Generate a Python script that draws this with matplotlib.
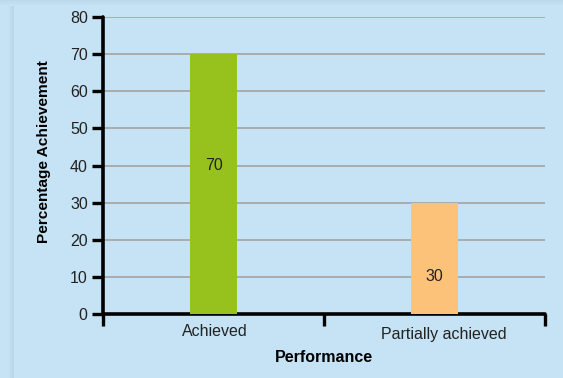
import matplotlib.pyplot as plt
import matplotlib.transforms as mtransforms
from matplotlib.patches import Rectangle

plt.rcParams['font.family'] = ['Liberation Sans', 'DejaVu Sans']

# data
categories = ["Achieved", "Partially achieved"]
values = [70, 30]
label_offsets = [30, 20]   # how far below the bar top each value label sits
bar_colors = ["#97c21e", "#fcc27a"]

bg = "#c5e3f4"
fig = plt.figure(figsize=(5.63, 3.78), dpi=100)
fig.patch.set_facecolor(bg)

# soft shadow along the top and left edge of the panel
for i, a in enumerate([0.10, 0.08, 0.06, 0.04, 0.02]):
    fig.patches.append(Rectangle((0, 1 - (i + 1) / 378), 1, 1 / 378, transform=fig.transFigure,
                                 facecolor="#6a8aa0", alpha=a, edgecolor="none", zorder=0))
    fig.patches.append(Rectangle((9 / 563 + i / 563, 0), 1 / 563, 1 - 6 / 378, transform=fig.transFigure,
                                 facecolor="#6a8aa0", alpha=0.04 + i * 0.025, edgecolor="none", zorder=0))

ax = fig.add_axes([103 / 563, 1 - 314 / 378, 442 / 563, 297 / 378])
ax.set_facecolor("none")

x = [0.5, 1.5]
ax.bar(x, values, width=0.213, color=bar_colors, zorder=3)
for xi, v, off in zip(x, values, label_offsets):
    ax.text(xi, v - off, str(v), ha="center", va="center", fontsize=11.5, color="#222222", zorder=4)

ax.set_xlim(0, 2)
ax.set_ylim(0, 80)
ax.set_yticks(range(0, 81, 10))
ax.yaxis.grid(True, color="#a9acae", linewidth=1.4, zorder=1)
ax.set_axisbelow(True)

ax.set_xticks([0, 1, 2])
ax.set_xticklabels([])
ax.tick_params(axis="x", direction="out", length=8.5, width=2.4)
ax.tick_params(axis="y", direction="out", length=8, width=2.4, labelsize=11.5,
               labelcolor="#222222", pad=3)

# category names under the axis, nudged a little (in pixels)
base = mtransforms.blended_transform_factory(ax.transData, ax.transAxes)
nudges = [(1.5, -18), (9.5, -21)]
for xi, name, (dx, dy) in zip(x, categories, nudges):
    tr = base + mtransforms.ScaledTranslation(dx / 100, dy / 100, fig.dpi_scale_trans)
    ax.text(xi, 0, name, transform=tr, ha="center", va="center", fontsize=11.5, color="#222222")

for side in ["top", "right"]:
    ax.spines[side].set_visible(False)
for side in ["left", "bottom"]:
    ax.spines[side].set_linewidth(2.6)
    ax.spines[side].set_capstyle("round")

ax.set_xlabel("Performance", fontsize=11.5, fontweight="bold")
ax.xaxis.set_label_coords(0.5, -44 / 297)
ax.xaxis.label.set_va("center")
ax.set_ylabel("Percentage Achievement", fontsize=11.1, fontweight="bold")
ax.yaxis.set_label_coords(-59 / 442, 0.547)
ax.yaxis.label.set_va("center")

fig.savefig("out.png", dpi=100, facecolor=bg)
